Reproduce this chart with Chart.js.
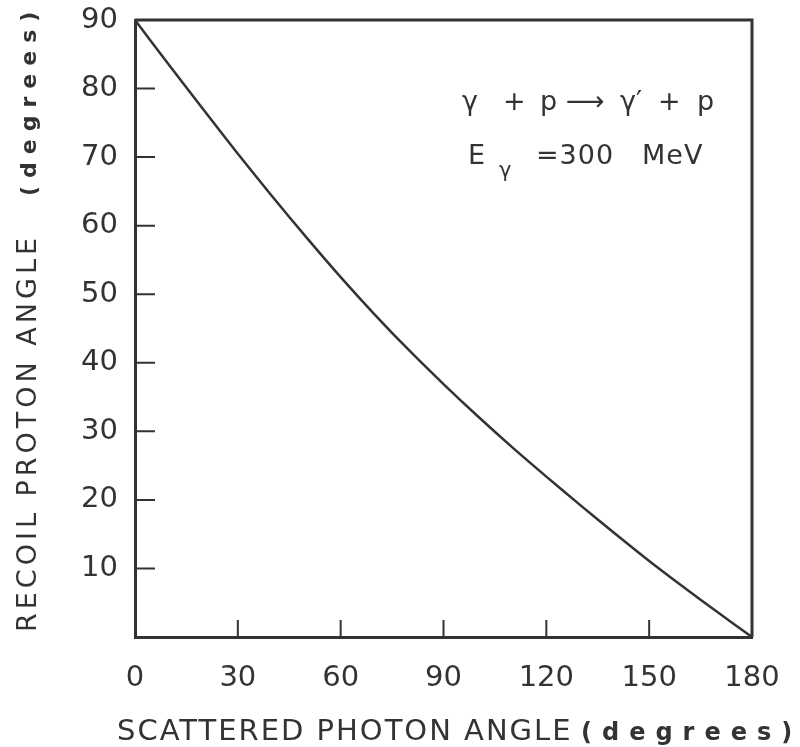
<!DOCTYPE html>
<html lang="en">

<head>
    <meta charset="UTF-8">
    <title>Recoil proton angle</title>
    <script src="https://cdn.jsdelivr.net/npm/chart.js"></script>
    <style>
        html, body { margin: 0; padding: 0; background: #fff; }
        #wrap { width: 800px; height: 747px; position: relative; }
    </style>
</head>

<body>
    <div id="wrap">
        <canvas id="angleChart"></canvas>
    </div>

    <script>
        // Scattered photon angle (deg) and recoil proton angle (deg), E = 300 MeV
        const photonAngle = [0, 10, 20, 30, 40, 50, 60, 70, 80, 90, 100, 110, 120, 130, 140, 150, 160, 170, 180];
        const protonAngle = [90, 83.4, 76.9, 70.5, 64.3, 58.3, 52.5, 47.0, 41.8, 36.9, 32.2, 27.7, 23.4, 19.2, 15.1, 11.1, 7.3, 3.6, 0];

        const xTicks = [0, 30, 60, 90, 120, 150, 180];
        const yTicks = [10, 20, 30, 40, 50, 60, 70, 80, 90];

        const ink = '#333';
        const fontFace = '"DejaVu Sans", sans-serif';

        // frame top/right, inward ticks and the hand-lettered captions
        const framePlugin = {
            id: 'frame',
            afterDraw(chart) {
                const ctx = chart.ctx;
                const a = chart.chartArea;
                const xs = chart.scales.x, ys = chart.scales.y;
                ctx.save();
                ctx.strokeStyle = ink;
                ctx.lineWidth = 3;
                ctx.beginPath();
                ctx.moveTo(a.left, a.top);
                ctx.lineTo(a.right, a.top);
                ctx.lineTo(a.right, a.bottom);
                ctx.stroke();

                ctx.lineWidth = 2;
                ctx.beginPath();
                yTicks.forEach(v => {
                    const y = ys.getPixelForValue(v);
                    ctx.moveTo(a.left, y);
                    ctx.lineTo(a.left + 20, y);
                });
                xTicks.slice(1, -1).forEach(v => {
                    const x = xs.getPixelForValue(v);
                    ctx.moveTo(x, a.bottom);
                    ctx.lineTo(x, a.bottom - 17);
                });
                ctx.stroke();

                ctx.fillStyle = ink;
                ctx.textBaseline = 'alphabetic';
                ctx.textAlign = 'left';

                // x axis title
                ctx.font = '29px ' + fontFace;
                ctx.letterSpacing = '2px';
                ctx.fillText('SCATTERED PHOTON ANGLE', 117, 740);
                ctx.font = 'bold 24px ' + fontFace;
                ctx.letterSpacing = '10px';
                ctx.fillText('(degrees)', 581, 740);

                // y axis title
                ctx.save();
                ctx.translate(36, 632);
                ctx.rotate(-Math.PI / 2);
                ctx.font = '27px ' + fontFace;
                ctx.letterSpacing = '4px';
                ctx.fillText('RECOIL PROTON ANGLE', 0, 0);
                ctx.font = 'bold 22px ' + fontFace;
                ctx.letterSpacing = '8px';
                ctx.fillText('(degrees)', 436, 0);
                ctx.restore();

                // reaction and beam energy
                ctx.letterSpacing = '0px';
                ctx.font = '27px ' + fontFace;
                ctx.fillText('\u03B3', 462, 110);
                ctx.fillText('+', 503, 110);
                ctx.fillText('p', 540, 110);
                ctx.fillText('\u27F6', 566, 110);
                ctx.fillText('\u03B3\u2032', 620, 110);
                ctx.fillText('+', 658, 110);
                ctx.fillText('p', 697, 110);
                ctx.fillText('E', 468, 164);
                ctx.font = '21px ' + fontFace;
                ctx.fillText('\u03B3', 499, 177);
                ctx.font = '27px ' + fontFace;
                ctx.letterSpacing = '1px';
                ctx.fillText('=300', 536, 164);
                ctx.fillText('MeV', 642, 164);
                ctx.restore();
            }
        };

        new Chart(document.getElementById('angleChart'), {
            type: 'scatter',
            data: {
                datasets: [{
                    data: photonAngle.map((x, i) => ({ x: x, y: protonAngle[i] })),
                    showLine: true,
                    borderColor: ink,
                    borderWidth: 2.5,
                    pointRadius: 0,
                    tension: 0.3
                }]
            },
            options: {
                responsive: true,
                maintainAspectRatio: false,
                animation: false,
                layout: { padding: { top: 20, right: 48, left: 0, bottom: 0 } },
                plugins: {
                    legend: { display: false },
                    tooltip: { enabled: false }
                },
                scales: {
                    x: {
                        type: 'linear',
                        min: 0,
                        max: 180,
                        afterBuildTicks: s => { s.ticks = xTicks.map(v => ({ value: v })); },
                        afterFit: s => {
                            s.height = 110;
                            s.paddingLeft = 0;
                            s.paddingRight = 0;
                        },
                        grid: { display: false, drawTicks: false },
                        border: { display: true, color: ink, width: 3 },
                        ticks: {
                            color: ink,
                            padding: 24,
                            maxRotation: 0,
                            font: { family: fontFace, size: 29 }
                        }
                    },
                    y: {
                        type: 'linear',
                        min: 0,
                        max: 90,
                        afterBuildTicks: s => { s.ticks = yTicks.map(v => ({ value: v })); },
                        afterFit: s => {
                            s.width = 135;
                            s.paddingTop = 0;
                            s.paddingBottom = 0;
                        },
                        grid: { display: false, drawTicks: false },
                        border: { display: true, color: ink, width: 3 },
                        ticks: {
                            color: ink,
                            padding: 17,
                            font: { family: fontFace, size: 29 }
                        }
                    }
                }
            },
            plugins: [framePlugin]
        });
    </script>
</body>

</html>
